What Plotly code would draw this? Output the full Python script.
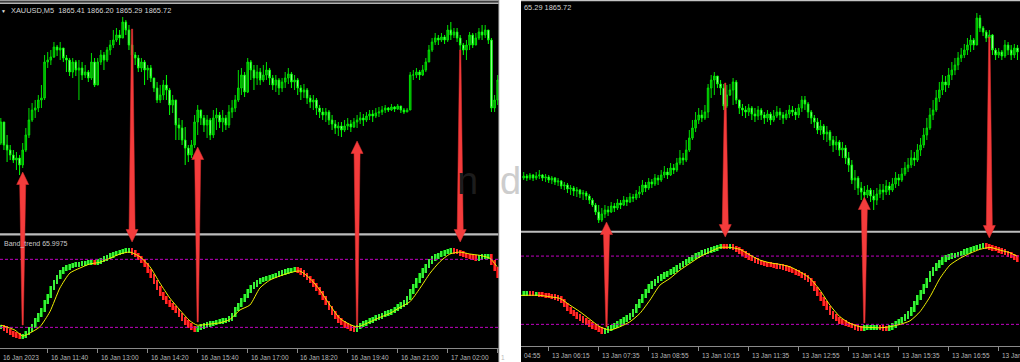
import plotly.graph_objects as go

W, H = 1020, 362
FONT = "Liberation Sans, Arial, sans-serif"

# ======================= DATA =======================
# ---- Left chart: XAUUSD M5, 16-17 Jan 2023 (one value per 5-minute bar) ----
open0_L = 1915.7
close_L = [
    1917.8, 1915.5, 1915.0, 1914.5, 1914.0, 1914.2, 1913.5, 1915.0, 1916.5, 1918.0,
    1919.0, 1919.2, 1920.0, 1920.2, 1923.8, 1924.0, 1924.3, 1925.3, 1925.0, 1925.2,
    1924.2, 1924.0, 1922.8, 1923.8, 1923.0, 1923.2, 1922.5, 1922.8, 1922.2, 1923.8,
    1921.5, 1923.8, 1924.5, 1924.0, 1925.0, 1925.5, 1926.0, 1926.5, 1926.2, 1927.8,
    1927.0, 1925.5, 1924.5, 1924.2, 1923.2, 1923.8, 1923.0, 1923.2, 1922.2, 1921.2,
    1920.0, 1920.5, 1921.5, 1921.0, 1919.5, 1920.0, 1917.5, 1917.2, 1916.0, 1915.2,
    1914.5, 1915.5, 1917.8, 1919.0, 1918.2, 1917.5, 1918.0, 1916.5, 1918.2, 1918.5,
    1917.8, 1918.2, 1917.5, 1918.8, 1919.2, 1920.0, 1921.2, 1922.5, 1920.8, 1923.8,
    1923.0, 1922.2, 1922.8, 1922.0, 1922.5, 1923.0, 1922.2, 1921.5, 1922.0, 1921.2,
    1921.8, 1922.2, 1922.6, 1921.8, 1922.0, 1921.2, 1920.8, 1921.0, 1920.2, 1919.8,
    1920.0, 1919.2, 1918.8, 1918.5, 1918.8, 1918.0, 1917.6, 1917.2, 1917.4, 1917.0,
    1917.4, 1917.6, 1917.3, 1917.8, 1918.0, 1918.2, 1918.0, 1918.4, 1918.6, 1918.4,
    1918.7, 1918.8, 1919.0, 1919.2, 1919.0, 1919.3, 1919.1, 1919.4, 1919.0, 1918.8,
    1919.0, 1922.5, 1922.5, 1922.8, 1922.5, 1923.0, 1923.8, 1925.0, 1925.8, 1926.2,
    1926.0, 1926.3, 1926.0, 1927.0, 1926.5, 1926.8, 1926.2, 1925.5, 1925.0, 1925.5,
    1926.5, 1925.5, 1926.2, 1926.8, 1926.5, 1927.0, 1926.0, 1919.2, 1920.0, 1922.0,
]
high_L = [
    1918.2, 1916.0, 1916.5, 1915.5, 1915.0, 1914.8, 1914.5, 1915.7, 1917.2, 1919.2,
    1919.7, 1920.0, 1920.5, 1921.5, 1924.5, 1924.8, 1925.0, 1925.8, 1925.5, 1925.8,
    1925.0, 1924.5, 1924.2, 1924.2, 1924.0, 1924.0, 1923.8, 1923.5, 1923.0, 1924.7,
    1924.2, 1924.2, 1925.0, 1924.8, 1925.3, 1926.0, 1927.0, 1927.2, 1927.0, 1928.3,
    1928.0, 1927.5, 1925.2, 1924.8, 1924.5, 1924.2, 1924.0, 1923.5, 1923.5, 1922.2,
    1921.8, 1921.5, 1922.0, 1922.5, 1921.2, 1920.5, 1919.2, 1918.2, 1918.0, 1917.3,
    1915.5, 1916.0, 1918.5, 1919.5, 1918.8, 1918.5, 1918.5, 1918.2, 1919.0, 1919.2,
    1918.8, 1919.0, 1918.5, 1919.5, 1920.0, 1920.5, 1923.0, 1923.2, 1922.8, 1924.2,
    1924.0, 1923.5, 1923.5, 1923.2, 1923.5, 1923.8, 1923.2, 1922.5, 1922.5, 1922.2,
    1922.2, 1922.8, 1923.2, 1922.8, 1922.5, 1922.2, 1921.5, 1921.6, 1921.2, 1920.5,
    1920.5, 1920.2, 1919.5, 1919.2, 1919.2, 1919.0, 1918.5, 1918.0, 1917.8, 1917.8,
    1918.0, 1918.2, 1918.0, 1918.2, 1918.5, 1918.8, 1918.6, 1918.8, 1919.0, 1919.0,
    1919.2, 1919.3, 1919.4, 1919.5, 1919.3, 1919.6, 1919.4, 1919.6, 1919.3, 1919.2,
    1919.2, 1922.8, 1923.0, 1923.2, 1923.0, 1923.5, 1924.2, 1925.5, 1926.2, 1926.7,
    1926.5, 1926.7, 1926.5, 1927.5, 1927.8, 1927.2, 1927.2, 1926.5, 1925.7, 1926.0,
    1926.8, 1926.7, 1926.7, 1927.2, 1927.5, 1927.5, 1927.0, 1926.2, 1920.5, 1922.5,
]
low_L = [
    1915.5, 1915.0, 1913.8, 1914.0, 1913.7, 1913.0, 1912.5, 1913.2, 1914.8, 1916.2,
    1917.8, 1918.2, 1918.8, 1919.2, 1920.0, 1923.2, 1923.5, 1924.2, 1924.4, 1924.0,
    1923.8, 1922.8, 1922.4, 1922.2, 1922.4, 1920.0, 1922.0, 1922.2, 1921.8, 1922.0,
    1921.3, 1921.5, 1923.5, 1923.0, 1923.8, 1924.5, 1925.2, 1925.8, 1925.5, 1926.4,
    1926.5, 1925.0, 1923.8, 1923.5, 1922.8, 1922.8, 1921.5, 1922.0, 1921.8, 1920.8,
    1919.7, 1919.7, 1920.0, 1920.0, 1918.5, 1918.7, 1916.0, 1916.0, 1915.5, 1913.5,
    1913.8, 1914.2, 1915.2, 1916.5, 1917.5, 1916.8, 1916.2, 1916.0, 1916.2, 1917.0,
    1917.2, 1916.8, 1917.0, 1917.2, 1918.2, 1918.8, 1919.8, 1920.5, 1920.3, 1920.7,
    1922.0, 1921.0, 1921.5, 1921.5, 1921.8, 1922.0, 1921.5, 1921.0, 1920.8, 1920.5,
    1920.8, 1921.2, 1921.6, 1921.2, 1921.0, 1920.5, 1920.0, 1920.2, 1919.6, 1919.2,
    1919.0, 1918.5, 1918.2, 1918.0, 1917.8, 1917.5, 1917.0, 1916.6, 1916.4, 1916.3,
    1916.8, 1917.0, 1916.8, 1917.2, 1917.2, 1917.6, 1917.4, 1917.8, 1918.0, 1917.8,
    1918.2, 1918.3, 1918.5, 1918.7, 1918.8, 1918.9, 1918.8, 1919.0, 1918.7, 1918.6,
    1918.8, 1919.5, 1922.0, 1922.2, 1922.0, 1922.4, 1922.8, 1923.8, 1924.8, 1925.5,
    1925.5, 1925.8, 1925.6, 1925.8, 1926.0, 1926.2, 1925.8, 1925.0, 1924.5, 1924.0,
    1925.0, 1925.2, 1925.5, 1926.0, 1926.0, 1926.2, 1925.6, 1918.8, 1918.8, 1919.5,
]
band_L = [
    20.2, 18.9, 16.7, 15.0, 13.6, 12.7, 11.9, 12.3, 15.0, 18.0,
    21.1, 26.4, 30.8, 35.3, 42.3, 47.6, 54.7, 60.0, 64.4, 68.8,
    71.4, 72.8, 74.1, 75.0, 75.4, 75.9, 76.3, 76.7, 77.2, 77.4,
    76.9, 78.1, 79.4, 80.7, 82.0, 83.4, 84.7, 85.6, 86.4, 87.3,
    88.0, 88.2, 86.0, 83.8, 81.1, 78.5, 75.0, 69.7, 65.3, 60.0,
    54.7, 49.4, 45.8, 42.3, 39.7, 37.0, 34.4, 30.8, 27.3, 24.2,
    21.6, 19.4, 18.0, 19.4, 20.7, 21.6, 22.5, 23.3, 24.0, 24.7,
    25.3, 26.0, 26.6, 27.8, 30.8, 36.1, 39.7, 44.1, 47.6, 52.0,
    55.6, 57.8, 60.0, 61.7, 62.6, 63.5, 64.4, 65.3, 66.1, 67.5,
    68.3, 69.2, 70.1, 70.7, 71.2, 70.1, 68.3, 66.1, 63.5, 60.8,
    57.3, 53.8, 50.3, 45.8, 41.4, 37.0, 32.6, 29.1, 26.0, 23.8,
    21.6, 20.2, 19.2, 18.2, 20.2, 22.0, 23.3, 24.7, 26.0, 27.3,
    28.6, 29.5, 30.8, 32.2, 33.2, 34.4, 36.1, 38.3, 40.1, 41.9,
    45.8, 51.6, 56.4, 61.3, 65.7, 70.1, 74.1, 78.1, 80.7, 82.5,
    84.0, 85.1, 86.3, 87.1, 87.6, 87.1, 86.3, 85.1, 84.0, 83.1,
    82.3, 81.6, 81.0, 81.8, 82.3, 82.6, 82.9, 77.2, 71.4, 66.0,
]
sig_x_L = [0, 4.5, 7, 9.3, 12.5, 15.7, 18.9, 22.1, 25.3, 28.5, 31.7, 34.9, 38.1,
           41.3, 44.5, 47.7, 50.9, 54.1, 57.3, 60.5, 62.8, 66.9, 70.1, 73.3, 76.5,
           79.7, 82.9, 86.1, 89.3, 92.5, 95.7, 98.9, 102.1, 105.3, 108.5, 111.7,
           114, 118.2, 121.3, 124.5, 127.7, 130.9, 134.1, 137.3, 140.5, 143.7,
           146.9, 150.1, 153.3, 156.5, 158.8]
sig_y_L = [22.0, 17.6, 12.3, 15.0, 20.5, 33.8, 54.7, 67.9, 72.3, 75.9, 77.4, 80.9,
           84.7, 86.4, 82.3, 73.5, 59.1, 45.8, 35.3, 25.8, 22.0, 22.9, 24.0, 27.0,
           35.3, 39.7, 54.7, 61.7, 65.3, 68.2, 69.7, 63.2, 52.9, 39.7, 27.9, 22.6,
           20.5, 24.9, 28.8, 32.3, 37.6, 42.6, 54.4, 67.6, 77.9, 84.7, 86.4, 84.7,
           83.5, 80.9, 73.5]
tick_idx_L = [-1.5, 15, 31, 47, 63, 79, 95, 111, 127, 143, 159]
tick_txt_L = ["16 Jan 2023", "16 Jan 11:40", "16 Jan 13:00", "16 Jan 14:20",
              "16 Jan 15:40", "16 Jan 17:00", "16 Jan 18:20", "16 Jan 19:40",
              "16 Jan 21:00", "17 Jan 02:00", "1"]
# signal arrows: (bar, direction, price end, indicator end)
arrows_L = [(7, "up", 1912.8, 22.1), (42, "down", 1927.1, 95.3),
            (63, "up", 1915.3, 24.7), (114, "up", 1915.9, 22.1),
            (147, "down", 1925.0, 95.3)]

# ---- Right chart: XAUUSD M5, 13 Jan 2023 ----
open0_R = 1882.2
close_R = [
    1882.4, 1882.2, 1882.5, 1882.2, 1882.4, 1882.5, 1882.2, 1882.3, 1882.0, 1882.2,
    1881.8, 1881.9, 1881.4, 1881.5, 1881.1, 1881.2, 1880.9, 1881.0, 1880.6, 1880.7,
    1880.4, 1880.0, 1879.5, 1878.8, 1878.0, 1878.6, 1879.0, 1878.8, 1879.4, 1879.2,
    1879.7, 1879.5, 1880.0, 1879.8, 1880.3, 1880.2, 1880.6, 1880.8, 1881.5, 1881.2,
    1881.8, 1881.6, 1882.2, 1882.0, 1882.5, 1882.8, 1882.5, 1883.2, 1883.0, 1883.7,
    1884.2, 1884.0, 1885.0, 1886.2, 1887.2, 1888.0, 1888.5, 1888.2, 1888.8, 1891.2,
    1892.0, 1892.4, 1891.6, 1891.2, 1889.4, 1890.5, 1891.0, 1891.8, 1890.0, 1889.2,
    1889.0, 1888.8, 1889.2, 1888.6, 1888.4, 1889.0, 1888.5, 1888.2, 1888.6, 1888.0,
    1888.4, 1888.8, 1888.5, 1888.2, 1888.6, 1889.0, 1888.8, 1888.5, 1889.2, 1890.0,
    1889.6, 1888.8, 1888.2, 1887.8, 1887.0, 1887.4, 1886.6, 1886.8, 1886.0, 1885.5,
    1885.8, 1885.0, 1885.2, 1884.2, 1883.5, 1882.0, 1882.2, 1881.2, 1880.8, 1880.5,
    1881.0, 1880.4, 1880.0, 1880.6, 1881.0, 1880.8, 1881.4, 1881.0, 1881.6, 1882.2,
    1882.0, 1882.6, 1883.2, 1883.5, 1884.2, 1884.0, 1885.0, 1885.5, 1886.5, 1887.2,
    1888.5, 1889.0, 1890.2, 1891.0, 1891.8, 1891.5, 1892.5, 1893.0, 1893.5, 1894.2,
    1894.5, 1895.0, 1895.5, 1896.0, 1895.5, 1898.2, 1897.2, 1896.8, 1896.2, 1896.5,
    1895.0, 1894.5, 1894.8, 1894.4, 1895.5, 1895.0, 1894.5, 1895.2, 1894.8,
]
high_R = [
    1882.8, 1882.6, 1882.7, 1882.6, 1882.8, 1883.0, 1882.6, 1882.6, 1882.5, 1882.4,
    1882.3, 1882.2, 1882.0, 1881.8, 1881.7, 1881.5, 1881.4, 1881.3, 1881.1, 1881.0,
    1880.9, 1880.6, 1880.2, 1879.7, 1879.5, 1879.2, 1879.5, 1879.4, 1879.8, 1879.7,
    1880.1, 1880.0, 1880.4, 1880.3, 1880.7, 1880.6, 1881.0, 1881.4, 1882.0, 1881.8,
    1882.2, 1882.1, 1882.6, 1882.5, 1883.0, 1883.4, 1883.2, 1883.7, 1883.6, 1884.2,
    1885.0, 1884.7, 1886.0, 1887.0, 1888.0, 1888.8, 1889.2, 1889.0, 1889.5, 1891.6,
    1892.5, 1892.8, 1892.4, 1892.0, 1891.6, 1891.5, 1891.6, 1892.2, 1892.0, 1890.0,
    1889.6, 1889.4, 1889.6, 1889.4, 1889.2, 1889.4, 1889.2, 1888.8, 1889.0, 1888.8,
    1889.0, 1889.4, 1889.2, 1888.8, 1889.0, 1889.5, 1889.4, 1889.2, 1889.6, 1890.4,
    1890.4, 1889.8, 1889.0, 1888.5, 1888.2, 1888.0, 1887.6, 1887.4, 1887.0, 1886.4,
    1886.4, 1886.0, 1885.8, 1885.5, 1884.8, 1884.0, 1883.0, 1882.4, 1881.8, 1881.4,
    1881.5, 1881.2, 1881.0, 1881.2, 1881.6, 1881.6, 1882.0, 1881.8, 1882.2, 1882.8,
    1882.6, 1883.2, 1883.8, 1884.2, 1885.0, 1884.8, 1885.6, 1886.2, 1887.2, 1888.2,
    1889.2, 1890.0, 1891.0, 1891.8, 1892.5, 1892.4, 1893.2, 1893.8, 1894.2, 1894.8,
    1895.2, 1895.6, 1896.2, 1896.5, 1896.2, 1898.7, 1898.5, 1897.4, 1897.0, 1897.0,
    1896.6, 1895.2, 1895.2, 1895.0, 1896.0, 1895.8, 1895.5, 1895.6, 1895.5,
]
low_R = [
    1882.0, 1881.9, 1882.0, 1881.9, 1882.0, 1882.1, 1881.9, 1881.8, 1881.7, 1881.6,
    1881.5, 1881.4, 1881.1, 1881.0, 1880.7, 1880.5, 1880.4, 1880.3, 1880.2, 1880.0,
    1880.0, 1879.6, 1879.3, 1878.5, 1877.7, 1877.8, 1878.2, 1878.4, 1878.7, 1878.8,
    1879.0, 1879.1, 1879.4, 1879.4, 1879.7, 1879.8, 1880.0, 1880.2, 1880.5, 1880.8,
    1881.0, 1881.2, 1881.4, 1881.5, 1881.8, 1882.2, 1882.1, 1882.4, 1882.6, 1882.8,
    1883.5, 1883.5, 1883.8, 1884.8, 1886.0, 1886.8, 1887.6, 1887.8, 1888.0, 1888.2,
    1890.2, 1890.5, 1891.2, 1890.5, 1889.0, 1889.2, 1890.4, 1889.5, 1889.6, 1888.6,
    1888.4, 1888.2, 1888.4, 1888.0, 1887.8, 1888.0, 1888.0, 1887.6, 1887.8, 1887.5,
    1887.8, 1888.2, 1888.0, 1887.6, 1888.0, 1888.2, 1888.4, 1888.0, 1888.2, 1888.8,
    1889.0, 1888.2, 1887.6, 1887.2, 1886.6, 1886.5, 1886.0, 1885.8, 1885.4, 1884.8,
    1885.0, 1884.4, 1884.2, 1883.6, 1882.8, 1881.6, 1881.0, 1880.5, 1880.0, 1879.5,
    1880.2, 1879.8, 1879.0, 1879.5, 1880.2, 1880.0, 1880.5, 1880.5, 1880.8, 1881.2,
    1881.4, 1881.8, 1882.4, 1882.8, 1883.2, 1883.4, 1883.8, 1884.4, 1885.2, 1886.0,
    1887.0, 1888.0, 1888.8, 1889.8, 1890.5, 1890.8, 1891.2, 1892.0, 1892.5, 1893.0,
    1893.8, 1894.2, 1894.5, 1894.8, 1895.0, 1896.0, 1896.8, 1896.4, 1895.8, 1895.8,
    1894.5, 1894.0, 1894.2, 1894.0, 1894.2, 1894.5, 1894.0, 1894.2, 1894.0,
]
band_R = [
    47.0, 47.3, 47.0, 46.6, 46.8, 46.3, 45.9, 45.6, 45.0, 44.4,
    43.8, 42.7, 40.5, 36.9, 33.4, 30.8, 29.0, 27.0, 25.3, 23.3,
    21.6, 19.8, 18.1, 16.7, 15.4, 13.7, 14.7, 16.3, 17.6, 18.9,
    20.7, 22.4, 24.2, 26.1, 28.2, 31.7, 36.1, 40.5, 44.9, 49.2,
    53.2, 55.8, 58.0, 60.2, 62.2, 63.7, 65.1, 66.6, 68.3, 70.3,
    72.1, 73.8, 75.6, 77.5, 79.1, 80.6, 81.9, 82.9, 83.8, 84.7,
    85.7, 86.8, 87.9, 88.8, 88.3, 88.1, 88.3, 87.0, 85.7, 84.1,
    82.4, 80.6, 78.7, 77.4, 76.0, 74.9, 73.8, 73.1, 72.5, 72.0,
    71.6, 71.1, 70.6, 69.8, 68.9, 67.9, 66.8, 65.6, 64.4, 62.9,
    61.1, 58.9, 55.8, 51.0, 46.6, 42.2, 38.3, 34.3, 29.9, 26.8,
    24.6, 22.7, 21.6, 20.5, 19.6, 18.5, 17.2, 16.6, 16.4, 17.1,
    17.3, 17.4, 17.5, 17.6, 17.0, 16.6, 16.3, 17.2, 18.9, 21.1,
    23.1, 24.8, 26.8, 29.5, 33.0, 38.7, 43.5, 48.4, 53.6, 58.9,
    64.6, 68.6, 71.7, 74.5, 76.9, 78.9, 79.7, 80.4, 81.1, 81.8,
    82.7, 83.8, 84.9, 86.2, 87.1, 88.0, 88.7, 89.1, 88.6, 87.8,
    86.9, 86.1, 85.0, 84.0, 82.8, 81.6, 80.2, 78.7, 77.1,
]
sig_x_R = [-0.9, 5.2, 8.4, 11.6, 14.8, 18.0, 21.2, 24.4, 27.6, 30.8, 34.0, 37.2,
           40.4, 43.6, 46.8, 50.0, 53.2, 56.4, 59.6, 62.8, 66.0, 69.2, 72.4, 75.6,
           78.8, 82.0, 85.2, 88.4, 91.6, 94.8, 98.0, 101.2, 104.4, 107.6, 110.8,
           114.0, 117.2, 120.4, 123.6, 126.8, 130.0, 133.2, 136.4, 139.6, 142.8,
           146.0, 149.2, 152.4, 155.6, 157.8]
sig_y_R = [45.5, 45.5, 44.2, 42.8, 36.9, 31.1, 24.4, 17.9, 15.0, 17.9, 22.3, 29.7,
           41.3, 54.5, 60.4, 67.7, 73.6, 79.4, 83.8, 87.6, 87.6, 85.9, 80.9, 76.5,
           74.1, 72.7, 70.6, 66.2, 60.4, 50.1, 36.9, 26.7, 20.9, 17.9, 17.3, 17.0,
           17.9, 20.0, 23.1, 31.1, 44.2, 60.4, 72.1, 78.0, 82.4, 85.9, 87.6, 85.3,
           82.9, 80.0]
tick_idx_R = [-8, 8, 24, 40, 56, 72, 88, 104, 120, 136, 152]
tick_txt_R = ["04:55", "13 Jan 06:15", "13 Jan 07:35", "13 Jan 08:55",
              "13 Jan 10:15", "13 Jan 11:35", "13 Jan 12:55", "13 Jan 14:15",
              "13 Jan 15:35", "13 Jan 16:55", "13 Jan"]
arrows_R = [(26.5, "up", 1877.8, 17.7), (64.5, "down", 1891.7, 96.7),
            (109, "up", 1880.3, 21.2), (149, "down", 1896.3, 95.9)]

levels = [20, 80]
title_L = "XAUUSD,M5  1865.41 1866.20 1865.29 1865.72"
title_R = "65.29 1865.72"
band_name = "Band_trend"
band_last = 65.9975

# ======================= LAYOUT GEOMETRY (px) =======================
L = dict(px=(0.0, 499.0), main=(5.0, 232.0), ind=(237.0, 348.0),
         xr=(-0.264, 159.416), pr=(1906.8, 1929.5), ir=(1.8, 99.7), lab_y=357.0)
R = dict(px=(521.0, 1020.0), main=(2.0, 229.0), ind=(234.0, 346.0),
         xr=(-0.864, 158.816), pr=(1877.1, 1899.8), ir=(1.0, 99.4), lab_y=355.0)


def dom_x(p):
    return [p[0] / W, p[1] / W]


def dom_y(p):
    return [1 - p[1] / H, 1 - p[0] / H]


def px_x(P, v):
    xr, pp = P["xr"], P["px"]
    return pp[0] + (v - xr[0]) / (xr[1] - xr[0]) * (pp[1] - pp[0])


def px_y(rng, pp, v):
    return pp[1] - (v - rng[0]) / (rng[1] - rng[0]) * (pp[1] - pp[0])


fig = go.Figure()
shapes = []
annotations = []
arrow_shapes = []


def rect(x0, y0, x1, y1, color, layer="above"):
    shapes.append(dict(type="rect", xref="paper", yref="paper",
                       x0=x0 / W, x1=x1 / W, y0=1 - y1 / H, y1=1 - y0 / H,
                       fillcolor=color, line=dict(width=0), layer=layer))


def add_panel(P, ax, open0, close, high, low, band, sx, sy, ticks, ticktxt, arrows):
    xm, ym, xi, yi = ax
    n = len(close)
    idx = list(range(n))
    opens = [open0] + close[:-1]
    hi = [max(h, o, c) for h, o, c in zip(high, opens, close)]
    lo = [min(l, o, c) for l, o, c in zip(low, opens, close)]
    fig.add_trace(go.Candlestick(
        x=idx, open=opens, high=hi, low=lo, close=close, xaxis=xm, yaxis=ym,
        increasing=dict(line=dict(color="#00e000", width=1), fillcolor="#009a00"),
        decreasing=dict(line=dict(color="#00ff00", width=1), fillcolor="#eaffea"),
        whiskerwidth=0, hoverinfo="skip", showlegend=False))
    for lv in levels:
        fig.add_trace(go.Scatter(x=[P["xr"][0], P["xr"][1]], y=[lv, lv], mode="lines",
                                 line=dict(color="#c000c0", width=1, dash="3px,2px"),
                                 xaxis=xi, yaxis=yi, hoverinfo="skip", showlegend=False))
    unit = (P["ir"][1] - P["ir"][0]) / (P["ind"][1] - P["ind"][0])
    th = 2.3 * unit
    prev = [band[0]] + band[:-1]
    base = [min(a, b) - th for a, b in zip(prev, band)]
    hgt = [abs(b - a) + 2 * th for a, b in zip(prev, band)]
    up = [b >= a for a, b in zip(prev, band)]
    outer = ["#009c00" if u else "#bc0000" for u in up]
    inner = ["#38f038" if u else "#ff2c2c" for u in up]
    fig.add_trace(go.Bar(x=idx, y=hgt, base=base, width=0.86,
                         marker=dict(color=outer, line=dict(width=0)),
                         xaxis=xi, yaxis=yi, hoverinfo="skip", showlegend=False))
    fig.add_trace(go.Bar(x=idx, y=hgt, base=base, width=0.36,
                         marker=dict(color=inner, line=dict(width=0)),
                         xaxis=xi, yaxis=yi, hoverinfo="skip", showlegend=False))
    fig.add_trace(go.Scatter(x=sx, y=sy, mode="lines",
                             line=dict(color="#f0f000", width=1, shape="spline", smoothing=0.6),
                             xaxis=xi, yaxis=yi, hoverinfo="skip", showlegend=False))

    def axname(a):
        return a[0] + "axis" + a[1:]

    fig.update_layout(**{
        axname(xm): dict(domain=dom_x(P["px"]), range=list(P["xr"]), visible=False,
                         anchor=ym, rangeslider=dict(visible=False), fixedrange=True),
        axname(ym): dict(domain=dom_y(P["main"]), range=list(P["pr"]), visible=False,
                         anchor=xm, fixedrange=True),
        axname(xi): dict(domain=dom_x(P["px"]), range=list(P["xr"]), anchor=yi,
                         showline=True, linecolor="#8a8a8a", linewidth=1,
                         ticks="outside", ticklen=4, tickcolor="#8a8a8a", tickwidth=1,
                         tickmode="array", tickvals=ticks, showticklabels=False,
                         showgrid=False, zeroline=False, fixedrange=True),
        axname(yi): dict(domain=dom_y(P["ind"]), range=list(P["ir"]), visible=False,
                         anchor=xi, fixedrange=True),
    })

    # time labels (left-aligned after each tick, MT4 style)
    for k, (t, txt) in enumerate(zip(ticks, ticktxt)):
        x = px_x(P, t) + 0.8
        anchor = "left"
        if x < P["px"][0]:
            x = P["px"][0] + 0.6
        if k == len(ticks) - 1 and P["px"][1] >= W - 1 and x + 18 > W:
            x, anchor = W - 3.0, "right"
        annotations.append(dict(x=x / W, y=1 - P["lab_y"] / H, xref="paper", yref="paper",
                                text=txt, showarrow=False, xanchor=anchor, yanchor="middle",
                                font=dict(family=FONT, size=6.5, color="#b8b8b8")))

    # red signal arrows: from price chart to indicator
    for bar, d, price, val in arrows:
        cx = px_x(P, bar)
        yp = px_y(P["pr"], P["main"], price)
        yv = px_y(P["ir"], P["ind"], val)
        hw, hh, sw, ew = 6.0, 12.5, 3.0, 0.6
        t, b = yp, yv
        if d == "up":
            pts = [(cx, t), (cx + hw, t + hh), (cx + sw, t + hh), (cx + ew, b),
                   (cx - ew, b), (cx - sw, t + hh), (cx - hw, t + hh)]
        else:
            pts = [(cx - ew, t), (cx + ew, t), (cx + sw, b - hh), (cx + hw, b - hh),
                   (cx, b), (cx - hw, b - hh), (cx - sw, b - hh)]
        path = "M " + " L ".join(f"{x / W:.5f},{1 - y / H:.5f}" for x, y in pts) + " Z"
        arrow_shapes.append(dict(type="path", xref="paper", yref="paper", path=path,
                                 fillcolor="#f43c3c", line=dict(color="#e83030", width=0.5),
                                 layer="above"))


# panel backgrounds
rect(L["px"][0], 0, L["px"][1], H, "#000000", layer="below")
rect(R["px"][0], 0, R["px"][1], H, "#000000", layer="below")

add_panel(L, ("x", "y", "x2", "y2"), open0_L, close_L, high_L, low_L, band_L,
          sig_x_L, sig_y_L, tick_idx_L, tick_txt_L, arrows_L)
add_panel(R, ("x3", "y3", "x4", "y4"), open0_R, close_R, high_R, low_R, band_R,
          sig_x_R, sig_y_R, tick_idx_R, tick_txt_R, arrows_R)

# frames and separators
rect(0, 0, 499, 1.2, "#9a9a9a")
rect(0, 1.2, 499, 2.6, "#444444")
rect(0, 2.6, 499, 4.0, "#b4b4b4")
rect(498.3, 0, 499.3, H, "#8c8c8c")
rect(0, 233.3, 498.3, 235.6, "#bcbcbc")
rect(521, 0, 1020, 1.3, "#c4c4c4")
rect(521, 230.7, 1020, 232.7, "#bcbcbc")

shapes.extend(arrow_shapes)

# texts
annotations.append(dict(x=3 / W, y=1 - 10.5 / H, xref="paper", yref="paper", text="▼",
                        showarrow=False, xanchor="center", yanchor="middle",
                        font=dict(family=FONT, size=5, color="#e0e0e0")))
annotations.append(dict(x=9 / W, y=1 - 10.5 / H, xref="paper", yref="paper", text=title_L,
                        showarrow=False, xanchor="left", yanchor="middle",
                        font=dict(family=FONT, size=7.4, color="#d4d4d4")))
annotations.append(dict(x=521.5 / W, y=1 - 7 / H, xref="paper", yref="paper", text=title_R,
                        showarrow=False, xanchor="left", yanchor="middle",
                        font=dict(family=FONT, size=7.4, color="#d4d4d4")))
annotations.append(dict(x=1.5 / W, y=1 - 243.5 / H, xref="paper", yref="paper",
                        text=f"{band_name} {band_last}", showarrow=False,
                        xanchor="left", yanchor="middle",
                        font=dict(family=FONT, size=7, color="#c8c8c8")))
# faint watermark (dark on the black chart, light on the white gap)
for ch, cx, col in (("n", 467, "#1c1c1c"), ("d", 510, "#cdcdcd")):
    annotations.append(dict(x=cx / W, y=1 - 181 / H, xref="paper", yref="paper", text=ch,
                            showarrow=False, xanchor="center", yanchor="middle",
                            font=dict(family=FONT, size=38, color=col)))

fig.update_layout(
    width=W, height=H, margin=dict(l=0, r=0, t=0, b=0, pad=0),
    paper_bgcolor="#ffffff", plot_bgcolor="#000000",
    showlegend=False, hovermode=False, barmode="overlay", bargap=0,
    shapes=shapes, annotations=annotations,
)

fig.write_html("out.html")
